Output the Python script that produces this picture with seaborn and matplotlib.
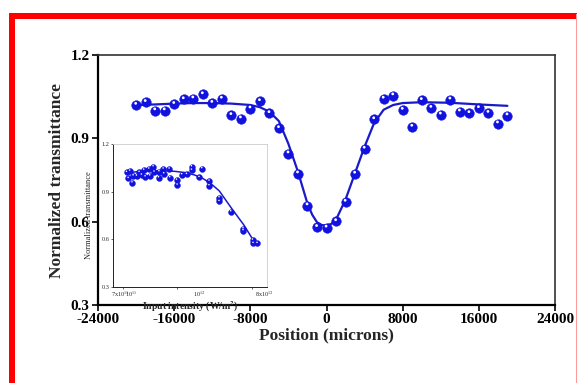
import matplotlib
matplotlib.use("Agg")
import matplotlib.pyplot as plt
import matplotlib.transforms as mtransforms
from matplotlib.patches import Rectangle
import seaborn as sns
import pandas as pd

# ---- main z-scan data ----
pos = [-20000, -19000, -18000, -17000, -16000, -15000, -14000, -13000, -12000, -11000,
       -10000, -9000, -8000, -7000, -6000, -5000, -4000, -3000, -2000, -1000,
       0, 1000, 2000, 3000, 4000, 5000, 6000, 7000, 8000, 9000,
       10000, 11000, 12000, 13000, 14000, 15000, 16000, 17000, 18000, 19000]
trans = [1.020, 1.030, 1.000, 1.000, 1.023, 1.040, 1.043, 1.058, 1.027, 1.042,
         0.983, 0.971, 1.007, 1.033, 0.990, 0.936, 0.845, 0.773, 0.658, 0.580,
         0.578, 0.601, 0.671, 0.772, 0.862, 0.968, 1.042, 1.054, 1.002, 0.941,
         1.037, 1.009, 0.985, 1.039, 0.996, 0.990, 1.008, 0.991, 0.953, 0.982]

fit_pos = [-20000, -18000, -16000, -14000, -12000, -10000, -8000, -7000, -6000, -5000,
           -4000, -3000, -2000, -1500, -1000, -500, 0, 500, 1000, 2000,
           3000, 4000, 5000, 6000, 7000, 8000, 10000, 13000, 16000, 19000]
fit_trans = [1.020, 1.022, 1.025, 1.027, 1.027, 1.025, 1.020, 1.012, 0.996, 0.962,
             0.880, 0.780, 0.665, 0.625, 0.598, 0.588, 0.586, 0.592, 0.607, 0.680,
             0.775, 0.870, 0.955, 1.003, 1.020, 1.027, 1.030, 1.028, 1.022, 1.017]

x_ticks = [-24000, -16000, -8000, 0, 8000, 16000, 24000]
y_ticks = [0.3, 0.6, 0.9, 1.2]

# ---- inset data (axis in relative units across the inset) ----
in_x = [0.089, 0.110, 0.100, 0.125, 0.132, 0.154, 0.171, 0.186, 0.201, 0.210,
        0.234, 0.240, 0.262, 0.268, 0.297, 0.300, 0.327, 0.331, 0.366, 0.370,
        0.414, 0.418, 0.448, 0.479, 0.511, 0.511, 0.578, 0.560, 0.625, 0.625,
        0.690, 0.690, 0.766, 0.846, 0.846, 0.907, 0.911, 0.937]
in_y = [1.022, 1.030, 0.984, 0.956, 1.000, 0.999, 1.022, 1.005, 1.036, 0.994,
        1.043, 1.000, 1.057, 1.024, 0.988, 1.026, 1.043, 1.013, 1.043, 0.988,
        0.973, 0.942, 1.007, 1.009, 1.057, 1.036, 1.045, 0.990, 0.967, 0.938,
        0.862, 0.839, 0.774, 0.667, 0.655, 0.596, 0.575, 0.575]
in_fit_x = [0.089, 0.15, 0.23, 0.31, 0.40, 0.47, 0.53, 0.58, 0.63, 0.69, 0.77, 0.85, 0.91, 0.94]
in_fit_y = [1.017, 1.025, 1.031, 1.032, 1.028, 1.020, 1.005, 0.985, 0.955, 0.905, 0.795, 0.690, 0.596, 0.565]
in_label_pos = [0.045, 0.12, 0.56, 0.985]
in_labels = [r"7x10$^{11}$", r"10$^{11}$", r"10$^{12}$", r"8x10$^{12}$"]
in_tick_pos = [0.065, 0.415, 0.90]

BLUE = "#1212e0"
LINE = "#1a1ac8"

sns.set_theme(style="ticks")
plt.rcParams['font.family'] = ['Liberation Serif', 'DejaVu Serif']
plt.rcParams['mathtext.fontset'] = 'stix'

fig = plt.figure(figsize=(5.77, 3.83), dpi=100)
fig.patch.set_facecolor("white")

# red frame decorations
fig.patches.append(Rectangle((9/577, 1 - 19/383), 1, 6/383, transform=fig.transFigure,
                             facecolor="#ff0000", edgecolor="none", zorder=0))
fig.patches.append(Rectangle((9/577, 0), 6/577, 1 - 14/383, transform=fig.transFigure,
                             facecolor="#ff0000", edgecolor="none", zorder=0))
fig.patches.append(Rectangle((575.5/577, 0), 1.2/577, 1 - 14/383, transform=fig.transFigure,
                             facecolor="#ff9a9a", edgecolor="none", zorder=0))

ax = fig.add_axes([98/577, 78/383, 457/577, 250/383])
df = pd.DataFrame({"pos": pos, "T": trans})
dfit = pd.DataFrame({"pos": fit_pos, "T": fit_trans})
sns.lineplot(data=dfit, x="pos", y="T", ax=ax, color=LINE, lw=1.6, sort=False, zorder=2)
sns.scatterplot(data=df, x="pos", y="T", ax=ax, color=BLUE, s=48, edgecolor=BLUE,
                linewidth=0.3, zorder=3)
off = mtransforms.ScaledTranslation(-0.3/72, 1.2/72, fig.dpi_scale_trans)
ax.scatter(pos, trans, s=4, color="white", edgecolor="none", zorder=4,
           transform=ax.transData + off)
ax.set_xlim(-24000, 24000)
ax.set_ylim(0.3, 1.2)
ax.set_xticks(x_ticks)
ax.set_yticks(y_ticks)
ax.set_xticklabels([str(v) for v in x_ticks], fontweight="bold", fontsize=11)
ax.set_yticklabels([f"{v:.1f}" for v in y_ticks], fontweight="bold", fontsize=11)
ax.tick_params(direction="out", length=4, width=1.2, pad=2, colors="black")
ax.set_xlabel("Position (microns)", fontweight="bold", fontsize=12.5, labelpad=1)
ax.set_ylabel("Normalized transmittance", fontweight="bold", fontsize=12.5, labelpad=4)
for s in ["left", "bottom"]:
    ax.spines[s].set_linewidth(1.6)
    ax.spines[s].set_color("black")
for s in ["top", "right"]:
    ax.spines[s].set_visible(True)
    ax.spines[s].set_linewidth(1.2)
    ax.spines[s].set_color("#333333")

# ---- inset ----
ia = fig.add_axes([113/577, 96/383, 154/577, 143/383])
din = pd.DataFrame({"x": in_x, "y": in_y})
dinf = pd.DataFrame({"x": in_fit_x, "y": in_fit_y})
sns.lineplot(data=dinf, x="x", y="y", ax=ia, color=LINE, lw=1.1, sort=False, zorder=2)
sns.scatterplot(data=din, x="x", y="y", ax=ia, color=BLUE, s=18, edgecolor=BLUE,
                linewidth=0.3, zorder=3)
off2 = mtransforms.ScaledTranslation(-0.2/72, 0.7/72, fig.dpi_scale_trans)
ia.scatter(in_x, in_y, s=1.2, color="white", edgecolor="none", zorder=4,
           transform=ia.transData + off2)
ia.set_xlim(0, 1)
ia.set_ylim(0.3, 1.2)
ia.set_yticks(y_ticks)
ia.set_yticklabels([f"{v:.1f}" for v in y_ticks], fontsize=4.5)
ia.set_xticks(in_tick_pos)
ia.set_xticklabels([""] * len(in_tick_pos))
ia.set_xticks(in_label_pos, minor=True)
ia.set_xticklabels(in_labels, minor=True, fontsize=4.5)
ia.tick_params(axis="x", which="minor", length=0, pad=1.5)
ia.tick_params(axis="both", which="major", direction="out", length=1.5, width=0.5, pad=1)
ia.set_xlabel(r"Input intensity (W/m$^{\mathbf{2}}$)", fontsize=7, fontweight="bold",
              labelpad=0.5)
ia.set_ylabel("Normalized transmittance", fontsize=6, labelpad=6)
ia.patch.set_facecolor("white")
for s in ["left", "bottom"]:
    ia.spines[s].set_linewidth(0.7)
    ia.spines[s].set_color("#222222")
for s in ["top", "right"]:
    ia.spines[s].set_visible(True)
    ia.spines[s].set_linewidth(0.6)
    ia.spines[s].set_color("#cccccc")

fig.savefig("out.png", dpi=100, facecolor="white")
